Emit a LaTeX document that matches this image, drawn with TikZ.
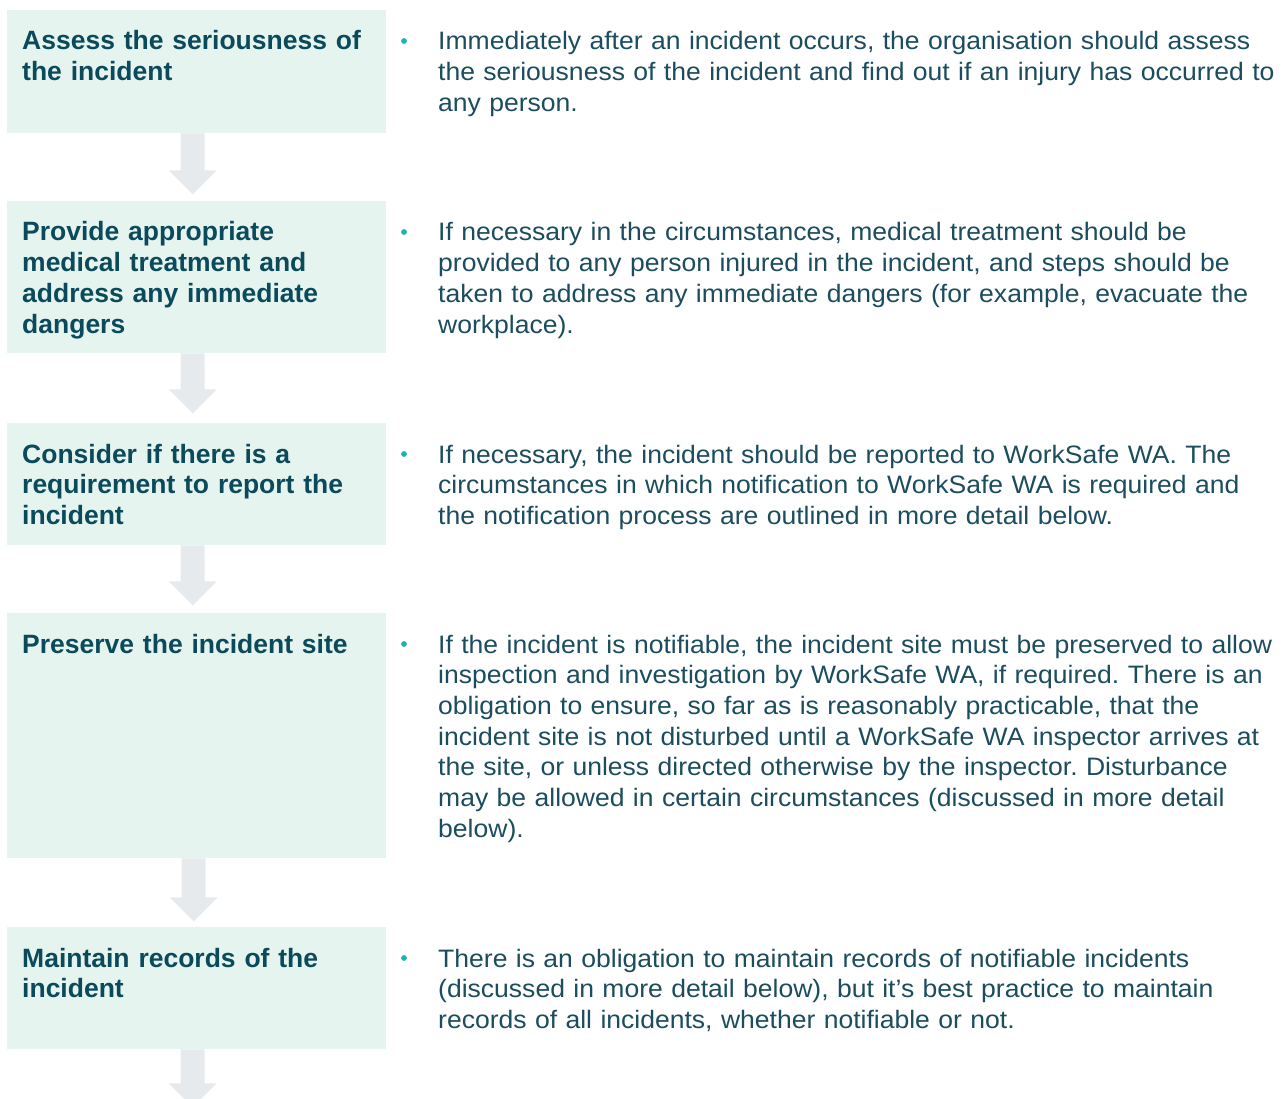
\documentclass[tikz,border=0pt]{standalone}
\usepackage{fontspec}
\setmainfont{Liberation Sans}
\newfontfamily\bodyfont[FakeStretch=1.053]{Liberation Sans}
\usetikzlibrary{calc}
\frenchspacing

\definecolor{boxfill}{HTML}{E5F4EE}
\definecolor{arrowfill}{HTML}{E6EAED}
\definecolor{titlecol}{HTML}{0B4A5B}
\definecolor{bodycol}{HTML}{1B4D5E}
\definecolor{bulletcol}{HTML}{1CB4AE}

\begin{document}
\begin{tikzpicture}[x=1pt,y=-1pt,
  stepbox/.style={fill=boxfill,draw=none,inner sep=0pt,minimum width=379pt,anchor=north west,rectangle},
  steptitle/.style={anchor=base west,inner sep=0pt,text width=360pt,align=left,text=titlecol,
    font=\fontsize{26.5}{30.8}\selectfont\bfseries},
  stepbody/.style={anchor=base west,inner sep=0pt,text width=860pt,align=left,text=bodycol,
    font=\bodyfont\fontsize{25.2}{30.7}\selectfont},
  pics/flowdown/.style={code={
    \fill[arrowfill] (-12,0) -- (-12,#1-24) -- (-24,#1-24) -- (0,#1) -- (24,#1-24)
      -- (12,#1-24) -- (12,0) -- cycle;}}
]
\useasboundingbox (0,0) rectangle (1285,1099);

% step boxes
\node[stepbox,minimum height=123pt] (b1) at (7,10) {};
\node[stepbox,minimum height=152pt] (b2) at (7,201) {};
\node[stepbox,minimum height=122pt] (b3) at (7,423) {};
\node[stepbox,minimum height=245pt] (b4) at (7,613) {};
\node[stepbox,minimum height=122pt] (b5) at (7,927) {};

% block arrows between the steps
\pic at ([xshift=-4pt]b1.south) {flowdown=61};
\pic at ([xshift=-4pt]b2.south) {flowdown=60};
\pic at ([xshift=-4pt]b3.south) {flowdown=60};
\pic at ([xshift=-3pt]b4.south) {flowdown=63};
\pic at ([xshift=-4pt]b5.south) {flowdown=58};

% step titles
\node[steptitle] (t1) at (22,50) {Assess the seriousness of\\the incident};
\node[steptitle] (t2) at (22,241) {Provide appropriate\\medical treatment and\\address any immediate\\dangers};
\node[steptitle] (t3) at (22,463) {Consider if there is a\\requirement to report the\\incident};
\node[steptitle] (t4) at (22,653) {Preserve the incident site};
\node[steptitle] (t5) at (22,967) {Maintain records of the\\incident};

% descriptions
\node[stepbody] (d1) at (438,50) {Immediately after an incident occurs, the organisation should assess\\the seriousness of the incident and find out if an injury has occurred to\\any person.};
\node[stepbody] (d2) at (438,241) {If necessary in the circumstances, medical treatment should be\\provided to any person injured in the incident, and steps should be\\taken to address any immediate dangers (for example, evacuate the\\workplace).};
\node[stepbody] (d3) at (438,463) {If necessary, the incident should be reported to WorkSafe WA. The\\circumstances in which notification to WorkSafe WA is required and\\the notification process are outlined in more detail below.};
\node[stepbody] (d4) at (438,653) {If the incident is notifiable, the incident site must be preserved to allow\\inspection and investigation by WorkSafe WA, if required. There is an\\obligation to ensure, so far as is reasonably practicable, that the\\incident site is not disturbed until a WorkSafe WA inspector arrives at\\the site, or unless directed otherwise by the inspector. Disturbance\\may be allowed in certain circumstances (discussed in more detail\\below).};
\node[stepbody] (d5) at (438,967) {There is an obligation to maintain records of notifiable incidents\\(discussed in more detail below), but it’s best practice to maintain\\records of all incidents, whether notifiable or not.};

% bullets
\foreach \d in {d1,d2,d3,d4,d5}
  \fill[bulletcol] ([shift={(-34,-9)}]\d.base west) circle (2.9);
\end{tikzpicture}
\end{document}
